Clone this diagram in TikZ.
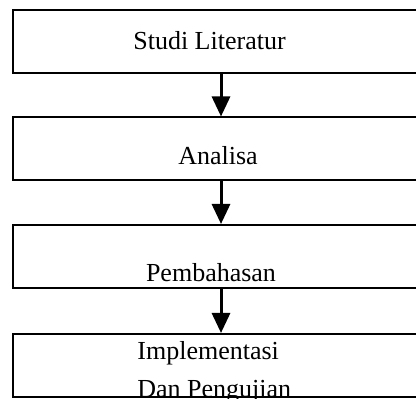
\documentclass[tikz,border=0pt]{standalone}
\usepackage{fontspec}
\setmainfont{Liberation Serif}
\usetikzlibrary{arrows.meta}

\begin{document}
\begin{tikzpicture}[x=0.5pt,y=-0.5pt]
    \tikzset{stage/.style={draw,line width=1pt,minimum width=208pt,minimum height=31.5pt,inner sep=0pt},
             stagetext/.style={inner sep=0pt,font=\fontsize{13pt}{15pt}\selectfont},
             flow/.style={-{Triangle[width=9pt,length=10pt]},line width=1.5pt}}
    \useasboundingbox (0,0) rectangle (416,399);
    \clip (0,0) rectangle (416,399);
    % boxes
    \node [stage] (studi)    at (221,41.5)  {};
    \node [stage] (analisa)  at (221,149)   {};
    \node [stage] (bahas)    at (221,256.5) {};
    \node [stage] (implem)   at (221,365.5) {};
    % texts
    \node [stagetext,anchor=base] (tstudi)   at (209.5,50)  {Studi Literatur};
    \node [stagetext,anchor=base] (tanalisa) at (218,165)   {Analisa};
    \node [stagetext,anchor=base] (tbahas)   at (211,282)   {Pembahasan};
    \node [stagetext,anchor=base west] (timpl) at (137,359) {Implementasi};
    \node [stagetext,anchor=base west] (tuji)  at (137,397) {Dan Pengujian};
    % arrows
    \draw [flow] (studi)   -- (analisa);
    \draw [flow] (analisa) -- (bahas);
    \draw [flow] (bahas)   -- (implem);
\end{tikzpicture}
\end{document}
